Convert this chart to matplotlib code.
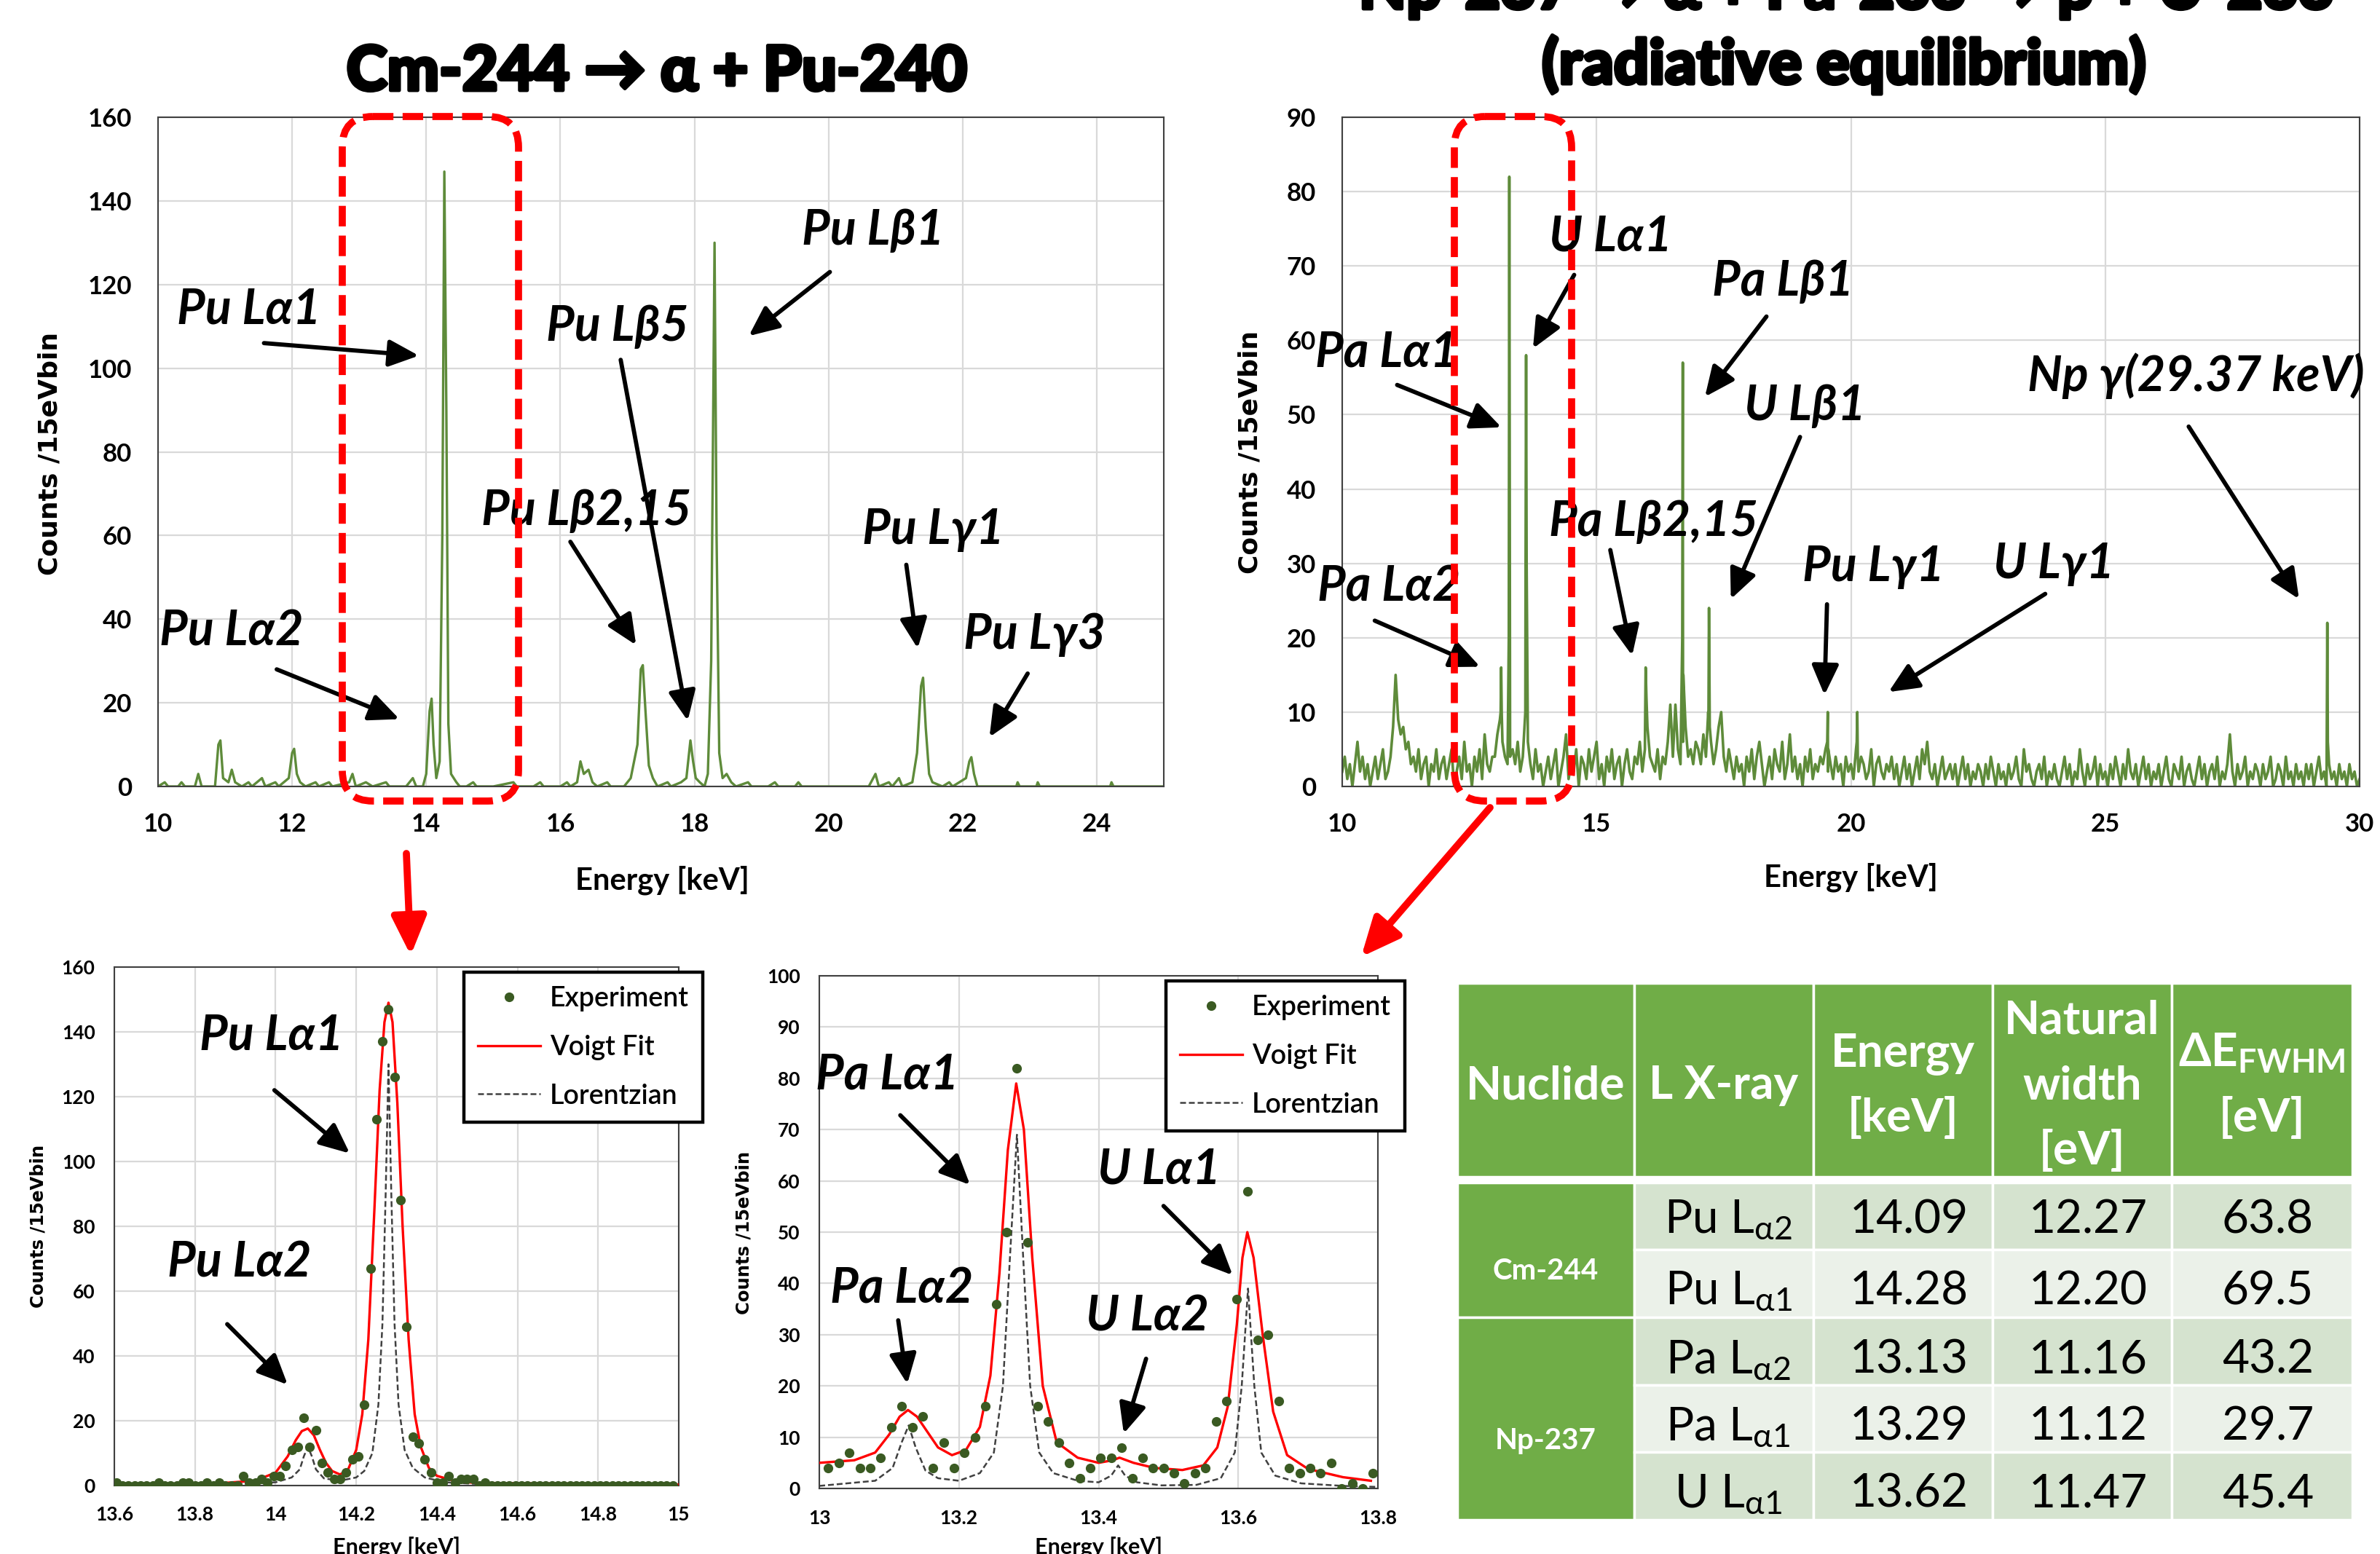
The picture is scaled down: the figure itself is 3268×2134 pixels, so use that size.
import numpy as np
import matplotlib
matplotlib.use('Agg')
import matplotlib.pyplot as plt
import matplotlib.patheffects as pe
from matplotlib.patches import FancyBboxPatch, Rectangle
from matplotlib.lines import Line2D

W, H, DPI = 3268, 2134, 100
plt.rcParams['font.family'] = ['Lato', 'DejaVu Sans']
plt.rcParams['mathtext.fontset'] = 'custom'
plt.rcParams['mathtext.rm'] = 'Lato'
plt.rcParams['mathtext.bf'] = 'Lato:bold'
plt.rcParams['mathtext.it'] = 'Lato:italic'

# ---------------- DATA ----------------
# Top-left: Cm-244 source spectrum (energy keV, counts / 15 eV bin)
cm_spectrum = [
    (10.0, 0), (10.1, 1), (10.15, 0), (10.3, 0), (10.35, 1), (10.4, 0), (10.55, 0), (10.6, 3), (10.65, 0),
    (10.85, 0), (10.9, 10), (10.93, 11), (10.97, 2), (11.05, 1), (11.1, 4), (11.15, 1), (11.25, 0), (11.35, 1),
    (11.4, 0), (11.55, 2), (11.6, 0), (11.75, 1), (11.8, 0), (11.95, 2), (12.0, 8), (12.03, 9), (12.07, 3),
    (12.12, 1), (12.2, 0), (12.35, 1), (12.4, 0), (12.55, 1), (12.6, 0), (12.85, 1), (12.9, 3), (12.95, 0),
    (13.1, 1), (13.2, 0), (13.4, 1), (13.45, 0), (13.7, 0), (13.8, 2), (13.85, 0), (13.95, 0), (14.0, 3),
    (14.05, 18), (14.08, 21), (14.11, 10), (14.15, 2), (14.2, 6), (14.24, 60), (14.27, 147), (14.3, 90),
    (14.33, 15), (14.37, 3), (14.45, 1), (14.5, 0), (14.6, 0), (14.7, 1), (14.75, 0), (15.0, 0), (15.3, 1),
    (15.35, 0), (15.6, 0), (15.7, 1), (15.75, 0), (16.0, 0), (16.1, 1), (16.15, 0), (16.25, 1), (16.3, 6),
    (16.35, 3), (16.42, 4), (16.48, 1), (16.55, 0), (16.7, 1), (16.75, 0), (16.95, 0), (17.05, 2), (17.15, 10),
    (17.2, 28), (17.23, 29), (17.27, 18), (17.32, 5), (17.38, 2), (17.45, 0), (17.6, 1), (17.65, 0), (17.8, 1),
    (17.88, 2), (17.94, 11), (17.98, 6), (18.02, 2), (18.08, 1), (18.15, 0), (18.2, 3), (18.25, 30), (18.3, 130),
    (18.33, 60), (18.37, 8), (18.42, 2), (18.48, 3), (18.55, 1), (18.62, 0), (18.8, 1), (18.85, 0), (19.1, 0),
    (19.2, 1), (19.25, 0), (19.5, 0), (19.55, 1), (19.6, 0), (20.6, 0), (20.7, 3), (20.75, 0), (20.9, 1),
    (20.95, 0), (21.05, 2), (21.1, 0), (21.25, 1), (21.32, 8), (21.38, 24), (21.41, 26), (21.45, 14), (21.5, 3),
    (21.55, 1), (21.7, 0), (21.8, 1), (21.85, 0), (22.05, 2), (22.1, 6), (22.13, 7), (22.17, 3), (22.22, 0),
    (22.8, 0), (22.82, 1), (22.85, 0), (23.1, 0), (23.12, 1), (23.15, 0), (24.2, 0), (24.22, 1), (24.25, 0),
    (25.0, 0)]

# Top-right: Np-237 source spectrum, background read every 0.05 keV from 10 keV
np_bg_start, np_bg_step = 10.0, 0.05
np_bg_counts = [
    2, 4, 1, 3, 0, 3, 6, 2, 4, 1, 3, 0, 2, 4, 1, 3, 5, 1, 2, 4,
    8, 15, 9, 7, 8, 5, 6, 3, 4, 2, 5, 1, 3, 4, 0, 3, 2, 5, 1, 3,
    4, 1, 3, 5, 0, 2, 4, 1, 6, 2, 3, 0, 4, 2, 5, 1, 7, 3, 2, 4,
    4, 7, 9, 6, 4, 3, 4, 5, 3, 6, 2, 4, 10, 6, 3, 1, 5, 2, 3, 0,
    2, 4, 1, 3, 5, 0, 2, 4, 7, 1, 3, 2, 5, 0, 4, 3, 1, 5, 2, 4,
    6, 1, 3, 0, 4, 2, 5, 1, 3, 4, 0, 3, 5, 2, 1, 4, 3, 6, 2, 5,
    8, 4, 3, 2, 5, 1, 4, 3, 6, 11, 4, 11, 5, 3, 6, 8, 4, 5, 3, 6,
    5, 3, 7, 4, 9, 6, 3, 5, 8, 10, 4, 2, 5, 3, 1, 4, 2, 3, 0, 4,
    2, 5, 1, 4, 6, 3, 0, 2, 4, 1, 5, 3, 2, 6, 1, 3, 7, 2, 4, 1,
    3, 0, 4, 2, 5, 1, 3, 2, 4, 3, 5, 2, 3, 1, 4, 2, 3, 0, 4, 2,
    3, 1, 5, 2, 4, 3, 1, 2, 5, 0, 3, 4, 2, 1, 3, 2, 4, 1, 3, 0,
    2, 4, 1, 3, 0, 2, 4, 1, 5, 3, 6, 2, 1, 3, 0, 2, 4, 1, 2, 3,
    1, 3, 0, 2, 4, 1, 3, 0, 2, 1, 3, 2, 0, 3, 1, 4, 2, 0, 3, 1,
    2, 0, 3, 1, 2, 4, 1, 0, 5, 2, 3, 1, 0, 2, 3, 1, 4, 0, 2, 1,
    3, 1, 0, 2, 4, 1, 3, 0, 2, 1, 5, 2, 0, 3, 1, 2, 4, 0, 3, 1,
    2, 0, 3, 1, 4, 2, 0, 3, 1, 5, 2, 1, 3, 0, 2, 4, 1, 3, 0, 2,
    1, 3, 0, 2, 4, 1, 0, 3, 2, 1, 4, 0, 2, 3, 1, 0, 2, 4, 1, 3,
    0, 2, 3, 1, 4, 0, 2, 1, 3, 7, 2, 0, 3, 1, 2, 4, 0, 2, 1, 3,
    2, 0, 3, 1, 2, 4, 0, 1, 3, 2, 0, 4, 1, 2, 0, 3, 1, 2, 0, 3,
    1, 3, 0, 2, 4, 1, 2, 0, 3, 1, 2, 0, 3, 1, 2, 0, 3, 1, 2, 0,
    1]
np_peak_energy = [13.115, 13.125, 13.135, 13.275, 13.285, 13.295, 13.605, 13.615, 13.625,
                  15.965, 15.98, 16.685, 16.695, 16.705, 17.195, 17.21, 17.225,
                  19.535, 19.545, 19.555, 20.115, 20.125, 20.135, 29.355, 29.365, 29.375]
np_peak_counts = [10, 16, 10, 20, 82, 30, 30, 58, 30,
                  16, 12, 20, 57, 15, 10, 24, 8,
                  6, 10, 5, 6, 10, 4, 8, 22, 6]

# Bottom-left: Pu L-alpha region (15 eV bins)
pu_exp_start, pu_exp_step = 13.605, 0.015
pu_exp_counts = [1, 0, 0, 0, 0, 0, 0, 1, 0, 0, 0, 1, 1, 0, 0, 1, 0, 1, 0, 0, 0,
                 3, 1, 1, 2, 1, 3, 3, 6, 11, 12, 21, 12, 17, 7, 4, 2, 2, 4, 8, 9,
                 25, 67, 113, 137, 147, 126, 88, 49, 15, 13, 8, 4, 1, 1, 3, 1, 2, 2, 2, 0, 1,
                 0, 0, 0, 0, 0, 0, 0, 0, 0, 0, 0, 0, 0, 0, 0, 0, 0, 0, 0, 0, 0, 0, 0, 0, 0, 0,
                 0, 0, 0, 0, 0]
pu_voigt_e = [13.6, 13.85, 13.95, 14.0, 14.03, 14.05, 14.065, 14.08, 14.095, 14.11,
              14.125, 14.14, 14.16, 14.18, 14.2, 14.215, 14.23, 14.245, 14.258, 14.27,
              14.28, 14.29, 14.302, 14.315, 14.33, 14.345, 14.36, 14.38, 14.4, 14.45, 14.5, 15.0]
pu_voigt_c = [0.3, 0.6, 1.5, 4, 9, 14, 16.8, 17.6, 15.5, 11,
              7, 4.5, 3.4, 5, 11, 22, 45, 85, 122, 143,
              149, 143, 118, 80, 45, 22, 12, 5.5, 3, 1.2, 0.8, 0.3]
pu_lor_e = [13.6, 13.9, 14.0, 14.04, 14.06, 14.07, 14.08, 14.09, 14.1, 14.12,
            14.16, 14.2, 14.22, 14.24, 14.255, 14.265, 14.273, 14.28, 14.287, 14.295,
            14.305, 14.32, 14.34, 14.37, 14.42, 14.5, 15.0]
pu_lor_c = [0.1, 0.4, 1, 2.5, 5, 9, 12, 9, 5, 2.2,
            1.5, 2.5, 4.5, 10, 25, 50, 90, 130, 90, 50,
            25, 11, 5.5, 2.5, 1, 0.5, 0.1]

# Bottom-middle: Pa / U L-alpha region (15 eV bins)
pa_exp_start, pa_exp_step = 13.013, 0.015
pa_exp_counts = [4, 5, 7, 4, 4, 6, 12, 16, 12, 14, 4, 9, 4, 7, 10, 16, 36, 50, 82, 48,
                 16, 13, 9, 5, 2, 4, 6, 6, 8, 2, 6, 4, 4, 3, 1, 3, 4, 13, 17, 37,
                 58, 29, 30, 17, 4, 3, 4, 3, 5, 0, 1, 0, 3]
pa_voigt_e = [13.0, 13.05, 13.08, 13.1, 13.115, 13.127, 13.14, 13.155, 13.17, 13.19,
              13.21, 13.23, 13.245, 13.258, 13.27, 13.282, 13.293, 13.305, 13.32, 13.34,
              13.37, 13.4, 13.42, 13.43, 13.45, 13.48, 13.52, 13.55, 13.57, 13.585,
              13.598, 13.606, 13.613, 13.622, 13.635, 13.65, 13.67, 13.7, 13.75, 13.79]
pa_voigt_c = [5.0, 5.5, 7.0, 10.5, 14, 15.3, 14, 11, 8, 6.5,
              7.5, 12, 22, 42, 66, 79, 70, 45, 20, 9,
              6, 5, 5.5, 6, 5, 4, 3.6, 4.5, 8, 16,
              32, 45, 50, 45, 30, 15, 6.5, 3.8, 2.2, 1.5]
pa_lor_e = [13.0, 13.08, 13.105, 13.118, 13.128, 13.138, 13.152, 13.17, 13.2, 13.23,
            13.25, 13.263, 13.273, 13.283, 13.292, 13.302, 13.315, 13.335, 13.37, 13.4,
            13.418, 13.428, 13.438, 13.455, 13.49, 13.54, 13.575, 13.595, 13.605, 13.614,
            13.623, 13.633, 13.653, 13.69, 13.75, 13.8]
pa_lor_c = [0.5, 1.5, 4, 9, 12.3, 8, 3.5, 2, 1.5, 3,
            7, 20, 45, 69, 45, 20, 7, 3, 1.5, 1.2,
            2.5, 4.5, 2.5, 1.2, 0.6, 0.7, 2, 7, 20, 39,
            20, 7, 2.5, 1, 0.5, 0.3]

# Table
tbl_nuclides = ['Cm-244', 'Np-237']
tbl_lines = [r'Pu L$_{\mathrm{α2}}$', r'Pu L$_{\mathrm{α1}}$', r'Pa L$_{\mathrm{α2}}$',
             r'Pa L$_{\mathrm{α1}}$', r'U L$_{\mathrm{α1}}$']
tbl_energy = ['14.09', '14.28', '13.13', '13.29', '13.62']
tbl_natural = ['12.27', '12.20', '11.16', '11.12', '11.47']
tbl_fwhm = ['63.8', '69.5', '43.2', '29.7', '45.4']

# ---------------- FIGURE ----------------
GREEN = '#5E8B3A'
DOT = '#3A5A22'
GRID = '#D9D9D9'
SPINE = '#404040'
DASH = (0, (3.2, 1.6))

fig = plt.figure(figsize=(W / DPI, H / DPI), dpi=DPI)


def px_axes(x0, y0, x1, y1):
    return fig.add_axes([x0 / W, 1 - y1 / H, (x1 - x0) / W, (y1 - y0) / H])


def style(ax, xlim, ylim, xticks, yticks, xtl, fs, padx, pady):
    ax.set_xlim(*xlim)
    ax.set_ylim(*ylim)
    ax.set_xticks(xticks)
    ax.set_yticks(yticks)
    ax.set_xticklabels(xtl)
    ax.grid(True, color=GRID, lw=1.6)
    ax.set_axisbelow(True)
    ax.tick_params(axis='both', length=0, labelsize=fs)
    ax.tick_params(axis='x', pad=padx)
    ax.tick_params(axis='y', pad=pady)
    for lab in ax.get_xticklabels() + ax.get_yticklabels():
        lab.set_fontweight('bold')
    for s in ax.spines.values():
        s.set_color(SPINE)
        s.set_linewidth(1.5)


ANN_FS = 48


def label(ax, x, y, s, fs=ANN_FS):
    ax.text(x, y, s, fontsize=fs, fontweight='bold', fontstyle='italic',
            ha='center', va='center', clip_on=False, zorder=10)


def arrow(ax, tail, head):
    ax.annotate('', xy=head, xytext=tail, annotation_clip=False,
                arrowprops=dict(arrowstyle='-|>,head_length=1.0,head_width=0.45',
                                lw=4.2, color='black', mutation_scale=25,
                                shrinkA=0, shrinkB=0), zorder=10)


# ---- top-left ----
ax1 = px_axes(217, 161, 1598, 1080)
cm_e = [p[0] for p in cm_spectrum]
cm_c = [p[1] for p in cm_spectrum]
ax1.plot(cm_e, cm_c, color=GREEN, lw=2.4)
style(ax1, (10, 25), (0, 160), np.arange(10, 25, 2), np.arange(0, 161, 20),
      [str(v) for v in range(10, 25, 2)], 25, 26, 26)
for s, (x, y), t, h in [
        ('Pu Lα1', (11.36, 114), (11.58, 106), (13.89, 103)),
        ('Pu Lβ5', (16.85, 110), (16.9, 102), (17.9, 15.7)),
        ('Pu Lβ1', (20.66, 133), (20.02, 123), (18.81, 107.7)),
        ('Pu Lβ2,15', (16.39, 65.9), (16.15, 58.5), (17.13, 33.8)),
        ('Pu Lγ1', (21.56, 61.4), (21.16, 53), (21.33, 33)),
        ('Pu Lγ3', (23.07, 36.3), (22.97, 27), (22.4, 11.8)),
        ('Pu Lα2', (11.1, 37.1), (11.77, 28), (13.6, 16.1))]:
    label(ax1, x, y, s)
    arrow(ax1, t, h)

# ---- top-right ----
ax2 = px_axes(1843, 161, 3240, 1080)
bg_e = np_bg_start + np_bg_step * np.arange(len(np_bg_counts))
all_e = np.concatenate([bg_e, np.array(np_peak_energy)])
all_c = np.concatenate([np.array(np_bg_counts, float), np.array(np_peak_counts, float)])
order = np.argsort(all_e, kind='stable')
ax2.plot(all_e[order], all_c[order], color=GREEN, lw=2.6)
style(ax2, (10, 30), (0, 90), np.arange(10, 31, 5), np.arange(0, 91, 10),
      [str(v) for v in range(10, 31, 5)], 25, 26, 26)
for s, (x, y), t, h in [
        ('U Lα1', (15.27, 73.9), (14.56, 68.8), (13.75, 58.9)),
        ('Pa Lβ1', (18.67, 67.9), (18.34, 63.2), (17.13, 52.4)),
        ('Pa Lα1', (10.87, 58.4), (11.08, 54), (13.13, 48.3)),
        ('U Lβ1', (19.1, 51.2), (19.0, 47), (17.64, 25.2)),
        ('Np γ(29.37 keV)', (26.79, 55.2), (26.64, 48.4), (28.81, 25.2)),
        ('Pa Lβ2,15', (16.12, 35.6), (15.27, 31.8), (15.7, 17.6)),
        ('Pa Lα2', (10.92, 26.8), (10.64, 22.3), (12.71, 16.1)),
        ('Pu Lγ1', (20.44, 29.5), (19.53, 24.5), (19.48, 12.3)),
        ('U Lγ1', (23.99, 29.9), (23.82, 25.9), (20.74, 12.7))]:
    label(ax2, x, y, s)
    arrow(ax2, t, h)


def legend(ax, x0, y0):
    handles = [Line2D([], [], ls='none', marker='o', color=DOT, ms=8.5),
               Line2D([], [], color='red', lw=2.4),
               Line2D([], [], color='#404040', lw=1.8, ls=DASH)]
    lg = ax.legend(handles, ['Experiment', 'Voigt Fit', 'Lorentzian'], loc='upper left',
                   bbox_to_anchor=(x0 / W, 1 - y0 / H), bbox_transform=fig.transFigure,
                   fancybox=False, edgecolor='black', framealpha=1,
                   handlelength=2.3, handletextpad=0.35, labelspacing=0.85,
                   borderpad=0.5, borderaxespad=0, prop={'weight': 'semibold', 'size': 27})
    lg.get_frame().set_linewidth(3.2)
    lg.set_zorder(12)


# ---- bottom-left ----
ax3 = px_axes(157, 1328, 932, 2040)
pu_e = pu_exp_start + pu_exp_step * np.arange(len(pu_exp_counts))
ax3.plot(pu_lor_e, pu_lor_c, color='#404040', lw=1.8, ls=DASH, zorder=3)
ax3.plot(pu_voigt_e, pu_voigt_c, color='red', lw=2.4, zorder=4)
ax3.plot(pu_e, pu_exp_counts, ls='none', marker='o', color=DOT, ms=8.5, zorder=5)
style(ax3, (13.6, 15.0), (0, 160), np.round(np.arange(13.6, 15.01, 0.2), 1), np.arange(0, 161, 20),
      ['13.6', '13.8', '14', '14.2', '14.4', '14.6', '14.8', '15'], 19, 20, 19)
legend(ax3, 637, 1335)
label(ax3, 13.99, 138.8, 'Pu Lα1')
arrow(ax3, (13.997, 122), (14.184, 102.5))
label(ax3, 13.91, 68.7, 'Pu Lα2')
arrow(ax3, (13.88, 49.8), (14.03, 31.1))

# ---- bottom-middle ----
ax4 = px_axes(1125, 1340, 1892, 2044)
pa_e = pa_exp_start + pa_exp_step * np.arange(len(pa_exp_counts))
ax4.plot(pa_lor_e, pa_lor_c, color='#404040', lw=1.8, ls=DASH, zorder=3)
ax4.plot(pa_voigt_e, pa_voigt_c, color='red', lw=2.4, zorder=4)
ax4.plot(pa_e, pa_exp_counts, ls='none', marker='o', color=DOT, ms=8.5, zorder=5)
style(ax4, (13.0, 13.8), (0, 100), np.round(np.arange(13.0, 13.81, 0.2), 1), np.arange(0, 101, 10),
      ['13', '13.2', '13.4', '13.6', '13.8'], 19, 21, 19)
legend(ax4, 1601, 1347)
label(ax4, 13.097, 80.7, 'Pa Lα1')
arrow(ax4, (13.116, 72.8), (13.216, 59.2))
label(ax4, 13.118, 38.9, 'Pa Lα2')
arrow(ax4, (13.113, 32.8), (13.126, 20.4))
label(ax4, 13.487, 62.2, 'U Lα1')
arrow(ax4, (13.493, 55.1), (13.592, 41.6))
label(ax4, 13.47, 33.5, 'U Lα2')
arrow(ax4, (13.468, 25.3), (13.436, 10.7))

# ---- overlay in pixel coordinates ----
ov = fig.add_axes([0, 0, 1, 1])
ov.set_xlim(0, W)
ov.set_ylim(H, 0)
ov.axis('off')
ov.set_zorder(20)
ov.patch.set_visible(False)

TITLE = dict(fontsize=61, fontweight='black', family=['Lato', 'DejaVu Sans'],
             ha='center', va='baseline',
             path_effects=[pe.withStroke(linewidth=3.5, foreground='black')])
ov.text(902, 124, 'Cm-244 → α + Pu-240', **TITLE)
ov.text(2535, 12, 'Np-237 → α + Pa-233 → β + U-233', **TITLE)
ov.text(2532, 115, '(radiative equilibrium)', **TITLE)

YL = dict(rotation=90, ha='center', va='center', fontweight='bold', family='DejaVu Sans')
ov.text(69, 623, 'Counts /15eVbin', fontsize=26, **YL)
ov.text(1717, 621, 'Counts /15eVbin', fontsize=26, **YL)
ov.text(53, 1684, 'Counts /15eVbin', fontsize=17.5, **YL)
ov.text(1022, 1693, 'Counts /15eVbin', fontsize=17.5, **YL)
ov.text(909, 1209, 'Energy [keV]', fontsize=30, fontweight='bold', ha='center', va='center')
ov.text(2541, 1205, 'Energy [keV]', fontsize=30, fontweight='bold', ha='center', va='center')
ov.text(545, 2110, 'Energy [keV]', fontsize=22, fontweight='bold', ha='center', va='top')
ov.text(1509, 2110, 'Energy [keV]', fontsize=22, fontweight='bold', ha='center', va='top')

# red dashed zoom boxes and arrows
for (x0, y0, x1, y1) in [(470, 160, 712, 1100), (1997, 160, 2158, 1100)]:
    ov.add_patch(FancyBboxPatch((x0, y0), x1 - x0, y1 - y0,
                                boxstyle='round,pad=0,rounding_size=42', fill=False,
                                ec='#FF0000', lw=7, ls=(0, (2.9, 1.3)), capstyle='butt'))
RED_ARROW = dict(arrowstyle='-|>,head_length=1.0,head_width=0.45', lw=7, color='#FF0000',
                 mutation_scale=32, shrinkA=0, shrinkB=0)
ov.annotate('', xy=(564, 1312), xytext=(558, 1172), arrowprops=RED_ARROW)
ov.annotate('', xy=(1869, 1314), xytext=(2046, 1109), arrowprops=RED_ARROW)

# ---- table ----
HDR = '#70AD47'
ROW_A = '#D5E3CF'
ROW_B = '#EBF1E9'
col_x = [2001, 2244, 2490, 2736, 2982, 3230]
row_y = [1624, 1716, 1809, 1902, 1994, 2087]
for i in range(5):
    ov.add_patch(Rectangle((col_x[i], 1350), col_x[i + 1] - col_x[i], 266, fc=HDR, ec='white', lw=2.5))
ov.add_patch(Rectangle((col_x[0], row_y[0]), col_x[1] - col_x[0], row_y[2] - row_y[0], fc=HDR, ec='white', lw=2.5))
ov.add_patch(Rectangle((col_x[0], row_y[2]), col_x[1] - col_x[0], row_y[5] - row_y[2], fc=HDR, ec='white', lw=2.5))
for r in range(5):
    for c in range(1, 5):
        ov.add_patch(Rectangle((col_x[c], row_y[r]), col_x[c + 1] - col_x[c], row_y[r + 1] - row_y[r],
                               fc=ROW_A if r % 2 == 0 else ROW_B, ec='white', lw=2.5))

cx = [(col_x[i] + col_x[i + 1]) / 2 for i in range(5)]
HT = dict(fontsize=46, fontweight='bold', color='white', ha='center', va='baseline')
ov.text(cx[0], 1509, 'Nuclide', **HT)
ov.text(cx[1], 1509, 'L X-ray', **HT)
ov.text(cx[2], 1464, 'Energy', **HT)
ov.text(cx[2], 1554, '[keV]', **HT)
ov.text(cx[3], 1420, 'Natural', **HT)
ov.text(cx[3], 1509, 'width', **HT)
ov.text(cx[3], 1599, '[eV]', **HT)
ov.text(cx[4], 1464, r'ΔE$_{\mathbf{FWHM}}$', **HT)
ov.text(cx[4], 1554, '[eV]', **HT)

NT = dict(fontsize=29, fontweight='bold', color='white', ha='center', va='baseline')
ov.text(cx[0], 1757, tbl_nuclides[0], **NT)
ov.text(cx[0], 1990, tbl_nuclides[1], **NT)

baselines = [1693, 1791, 1886, 1978, 2070]
BT = dict(fontsize=46, color='black', ha='center', va='baseline')
for r in range(5):
    ov.text(cx[1] + 6, baselines[r], tbl_lines[r], **BT)
    ov.text(cx[2] + 8, baselines[r], tbl_energy[r], **BT)
    ov.text(cx[3] + 8, baselines[r], tbl_natural[r], **BT)
    ov.text(cx[4] + 8, baselines[r], tbl_fwhm[r], **BT)

fig.savefig('out.png', dpi=DPI)
